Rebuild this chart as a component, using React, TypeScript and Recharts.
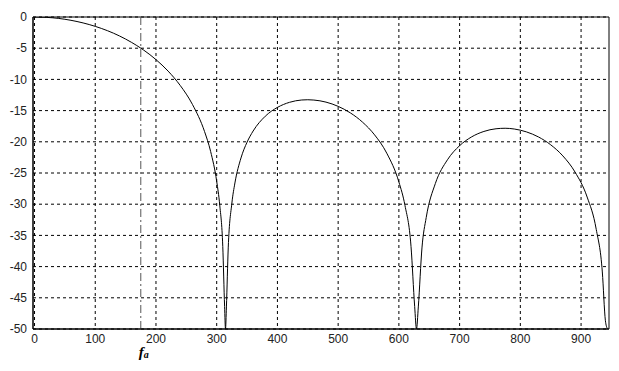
import React from 'react';
import { LineChart, Line, XAxis, YAxis, CartesianGrid, ReferenceLine, ReferenceArea } from 'recharts';

// values (dB)
const freqs = [0, 20, 40, 60, 80, 100, 120, 140, 160, 175, 180, 200, 220, 240, 260, 280, 290, 300, 305, 310, 313, 314.5, 316, 319, 325, 330, 340, 350, 360, 380, 400, 420, 440, 450, 460, 480, 500, 520, 540, 560, 580, 600, 610, 620, 626, 629, 632, 638, 645, 660, 680, 700, 720, 740, 760, 775, 790, 810, 830, 850, 870, 890, 910, 925, 935, 940, 943.5];
const gainDb = [0, -0.06, -0.23, -0.53, -0.95, -1.5, -2.19, -3.04, -4.08, -4.99, -5.32, -6.83, -8.67, -10.98, -14.0, -18.36, -21.55, -26.35, -30.14, -36.78, -46.38, -50, -46.46, -37.0, -29.83, -26.6, -22.59, -20.06, -18.27, -15.9, -14.49, -13.67, -13.3, -13.26, -13.31, -13.64, -14.32, -15.36, -16.84, -18.89, -21.82, -26.44, -30.19, -36.79, -46.41, -50, -46.46, -37.01, -32.14, -26.7, -22.88, -20.62, -19.2, -18.34, -17.91, -17.83, -17.95, -18.41, -19.23, -20.48, -22.26, -24.84, -28.85, -34.04, -40.86, -48.6, -50];
const xTicks = [0, 100, 200, 300, 400, 500, 600, 700, 800, 900];
const yTicks = [0, -5, -10, -15, -20, -25, -30, -35, -40, -45, -50];
const fa = 175;

const data = freqs.map((f, i) => ({ f, db: gainDb[i] }));

const FaLabel = (props: any) => {
  const { viewBox } = props;
  const x = viewBox.x;
  const y = viewBox.y + viewBox.height;
  return (
    <text x={x - 2} y={y + 28} fontFamily="'Liberation Serif', serif" fontWeight="bold" fontStyle="italic" fontSize={15} fill="#000">
      f<tspan fontSize={10} dy={1}>a</tspan>
    </text>
  );
};

const tickStyle = { fontFamily: "'Liberation Sans', Arial, sans-serif", fontSize: 12, fill: '#222' };

export default function App() {
  return (
    <div style={{ position: 'absolute', left: 0, top: 0, background: '#fff' }}>
      <LineChart width={619} height={371} data={data} margin={{ top: 17, right: 10, left: 0, bottom: 22 }}>
        <CartesianGrid stroke="#000" strokeDasharray="3 3" horizontalValues={yTicks} verticalValues={xTicks} />
        <XAxis
          dataKey="f"
          type="number"
          domain={[-2.5, 946]}
          ticks={xTicks}
          allowDataOverflow
          height={20}
          tickLine={false}
          tickSize={4}
          tickMargin={1}
          axisLine={{ stroke: '#000' }}
          tick={tickStyle}
        />
        <YAxis
          type="number"
          domain={[-50, 0]}
          ticks={yTicks}
          allowDataOverflow
          width={33}
          tickLine={false}
          tickSize={4}
          tickMargin={2}
          axisLine={{ stroke: '#000' }}
          tick={tickStyle}
        />
        <ReferenceArea x1={-2.5} x2={946} y1={-50} y2={0} fill="none" stroke="#000" strokeWidth={1} ifOverflow="visible" />
        <ReferenceLine x={fa} stroke="#555" strokeDasharray="8 3 2 3" label={<FaLabel />} />
        <Line dataKey="db" type="monotone" stroke="#000" strokeWidth={1} dot={false} isAnimationActive={false} />
      </LineChart>
    </div>
  );
}
